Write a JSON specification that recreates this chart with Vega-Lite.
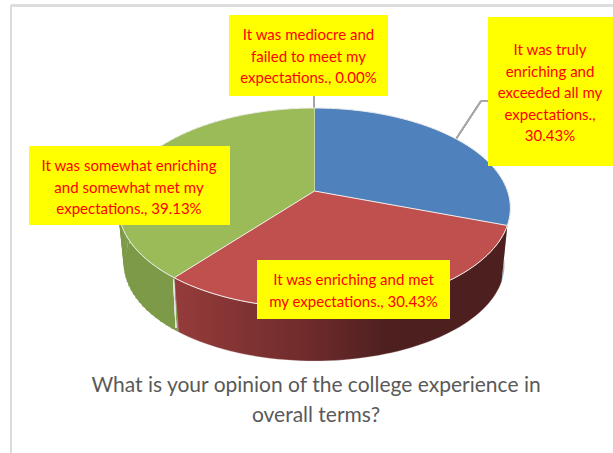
{"$schema":"https://vega.github.io/schema/vega-lite/v6.json","width":613,"height":453,"padding":0,"autosize":"none","background":"white","config":{"view":{"stroke":null}},
"datasets":{"slices":[
{"label":"It was truly\nenriching and\nexceeded all my\nexpectations.,\n30.43%","share":30.43,"colour":"blue"},
{"label":"It was enriching and met\nmy expectations., 30.43%","share":30.43,"colour":"red"},
{"label":"It was somewhat enriching\nand somewhat met my\nexpectations., 39.13%","share":39.13,"colour":"green"},
{"label":"It was mediocre and\nfailed to meet my\nexpectations., 0.00%","share":0,"colour":"none"}
],"title":[{"line":"What is your opinion of the college experience in\noverall terms?"}]},
"data":{"name":"slices"},
"layer":[
{"mark":{"type":"rule","stroke":"#dcdcdc","strokeWidth":2},"encoding":{"x":{"datum":11,"type":"quantitative","scale":{"domain":[0,613],"nice":false,"zero":false},"axis":null},"y":{"datum":5.5,"type":"quantitative","scale":{"domain":[453,0],"nice":false,"zero":false},"axis":null},"y2":{"datum":453}}},
{"mark":{"type":"rule","stroke":"#dcdcdc","strokeWidth":2},"encoding":{"x":{"datum":11,"type":"quantitative"},"x2":{"datum":613},"y":{"datum":5.5,"type":"quantitative"}}},
{"mark":{"type":"rule","stroke":"#a6a6a6","strokeWidth":1.5},"encoding":{"x":{"datum":314,"type":"quantitative"},"y":{"datum":96,"type":"quantitative"},"y2":{"datum":108}}},
{"mark":{"type":"rule","stroke":"#a6a6a6","strokeWidth":1.5},"encoding":{"x":{"datum":456,"type":"quantitative"},"x2":{"datum":481},"y":{"datum":139,"type":"quantitative"},"y2":{"datum":101}}},
{"mark":{"type":"rule","stroke":"#a6a6a6","strokeWidth":1.5},"encoding":{"x":{"datum":481,"type":"quantitative"},"x2":{"datum":489},"y":{"datum":101,"type":"quantitative"}}},
{"transform":[{"stack":"share","offset":"normalize","as":["s0","s1"]},{"filter":"datum.colour=='blue'"},{"calculate":"sequence(0,120)","as":"pts"},{"flatten":["pts"],"as":["i"]},{"calculate":"2*PI*(datum.s0+(datum.s1-datum.s0)*(datum.i<60?datum.i/59:(119-datum.i)/59))","as":"th"},{"filter":"datum.i<120"},{"calculate":"1+0.17*cos(datum.th)","as":"w"},{"calculate":"193*sin(datum.th)/datum.w","as":"dx"},{"calculate":"191-97.1*cos(datum.th)/datum.w","as":"py"},{"calculate":"314.5+datum.dx*(datum.i<60?1:0.97)","as":"X"},{"calculate":"datum.i<60?datum.py:265+(datum.py-208)*0.96","as":"Y"}],
"mark":{"type":"line","filled":true,"fill":"#9db4cf"},"encoding":{"x":{"field":"X","type":"quantitative"},"y":{"field":"Y","type":"quantitative"},"order":{"field":"i","type":"quantitative"}}},
{"transform":[{"stack":"share","offset":"normalize","as":["s0","s1"]},{"filter":"datum.colour=='green'"},{"calculate":"sequence(0,120)","as":"pts"},{"flatten":["pts"],"as":["i"]},{"calculate":"2*PI*(datum.s0+(datum.s1-datum.s0)*(datum.i<60?datum.i/59:(119-datum.i)/59))","as":"th"},{"filter":"datum.i<120"},{"calculate":"1+0.17*cos(datum.th)","as":"w"},{"calculate":"193*sin(datum.th)/datum.w","as":"dx"},{"calculate":"191-97.1*cos(datum.th)/datum.w","as":"py"},{"calculate":"314.5+datum.dx*(datum.i<60?1:0.97)","as":"X"},{"calculate":"datum.i<60?datum.py:265+(datum.py-208)*0.96","as":"Y"}],
"mark":{"type":"line","filled":true,"fill":"#7d9a49"},"encoding":{"x":{"field":"X","type":"quantitative"},"y":{"field":"Y","type":"quantitative"},"order":{"field":"i","type":"quantitative"}}},
{"transform":[{"stack":"share","offset":"normalize","as":["s0","s1"]},{"filter":"datum.colour=='green'"},{"calculate":"sequence(0,60)","as":"pts"},{"flatten":["pts"],"as":["i"]},{"calculate":"2*PI*(datum.s0+(datum.s1-datum.s0)*datum.i/59)","as":"th"},{"filter":"datum.i<60"},{"calculate":"1+0.17*cos(datum.th)","as":"w"},{"calculate":"193*sin(datum.th)/datum.w","as":"dx"},{"calculate":"191-97.1*cos(datum.th)/datum.w","as":"py"},{"calculate":"314.5+datum.dx","as":"X"},{"calculate":"datum.py","as":"Y"},{"calculate":"314.5+datum.dx*0.97","as":"X2"},{"calculate":"265+(datum.py-208)*0.96","as":"Y2"}],
"mark":{"type":"rule","stroke":"#7d9a49","strokeWidth":1.5},"encoding":{"x":{"field":"X","type":"quantitative"},"y":{"field":"Y","type":"quantitative"},"x2":{"field":"X2"},"y2":{"field":"Y2"}}},
{"transform":[{"stack":"share","offset":"normalize","as":["s0","s1"]},{"filter":"datum.colour=='red'"},{"calculate":"sequence(0,120)","as":"pts"},{"flatten":["pts"],"as":["i"]},{"calculate":"2*PI*(datum.s0+(datum.s1-datum.s0)*(datum.i<60?datum.i/59:(119-datum.i)/59))","as":"th"},{"filter":"datum.i<120"},{"calculate":"1+0.17*cos(datum.th)","as":"w"},{"calculate":"193*sin(datum.th)/datum.w","as":"dx"},{"calculate":"191-97.1*cos(datum.th)/datum.w","as":"py"},{"calculate":"314.5+datum.dx*(datum.i<60?1:0.97)","as":"X"},{"calculate":"datum.i<60?datum.py:265+(datum.py-208)*0.96","as":"Y"}],
"mark":{"type":"line","filled":true,"fill":{"gradient":"linear","x1":0,"y1":0,"x2":1,"y2":0,"stops":[{"offset":0,"color":"#953c3b"},{"offset":0.4,"color":"#6f2b2b"},{"offset":0.65,"color":"#4d1f1f"},{"offset":1,"color":"#4d1f1f"}]},"stroke":"#e6e0e0","strokeWidth":0.3},"encoding":{"x":{"field":"X","type":"quantitative"},"y":{"field":"Y","type":"quantitative"},"order":{"field":"i","type":"quantitative"}}},
{"mark":{"type":"rule","stroke":"#e8e4e4","strokeWidth":1},"encoding":{"x":{"datum":173.5,"type":"quantitative"},"x2":{"datum":176},"y":{"datum":279,"type":"quantitative"},"y2":{"datum":328}}},
{"transform":[{"stack":"share","offset":"normalize","as":["s0","s1"]},{"filter":"datum.share>0"},{"calculate":"sequence(0,61)","as":"pts"},{"flatten":["pts"],"as":["i"]},{"calculate":"2*PI*(datum.s0+(datum.s1-datum.s0)*(datum.i-1)/59)","as":"th"},{"filter":"datum.i<61"},{"calculate":"1+0.17*cos(datum.th)","as":"w"},{"calculate":"datum.i==0?314.5:314.5+193*sin(datum.th)/datum.w","as":"X"},{"calculate":"datum.i==0?191:191-97.1*cos(datum.th)/datum.w","as":"Y"}],
"mark":{"type":"line","filled":true,"stroke":"#f0eeee","strokeWidth":1},"encoding":{"x":{"field":"X","type":"quantitative"},"y":{"field":"Y","type":"quantitative"},"order":{"field":"i","type":"quantitative"},"fill":{"field":"colour","type":"nominal","legend":null,"scale":{"domain":["blue","red","green"],"range":["#4f81bd","#c0504d","#9bbb59"]}}}},
{"mark":{"type":"rect","fill":"#ffff00"},"encoding":{"x":{"datum":229,"type":"quantitative"},"x2":{"datum":388},"y":{"datum":15,"type":"quantitative"},"y2":{"datum":96}}},
{"mark":{"type":"rect","fill":"#ffff00"},"encoding":{"x":{"datum":488,"type":"quantitative"},"x2":{"datum":613},"y":{"datum":17,"type":"quantitative"},"y2":{"datum":166}}},
{"mark":{"type":"rect","fill":"#ffff00"},"encoding":{"x":{"datum":29,"type":"quantitative"},"x2":{"datum":230},"y":{"datum":146,"type":"quantitative"},"y2":{"datum":225}}},
{"mark":{"type":"rect","fill":"#ffff00"},"encoding":{"x":{"datum":257,"type":"quantitative"},"x2":{"datum":450},"y":{"datum":260,"type":"quantitative"},"y2":{"datum":319}}},
{"transform":[{"filter":"datum.colour=='none'"}],"mark":{"type":"text","font":"Lato","fontSize":15,"fill":"#ff0000","align":"center","baseline":"alphabetic","lineBreak":"\n","lineHeight":21.5},"encoding":{"x":{"datum":308.5,"type":"quantitative"},"y":{"datum":40,"type":"quantitative"},"text":{"field":"label"}}},
{"transform":[{"filter":"datum.colour=='blue'"}],"mark":{"type":"text","font":"Lato","fontSize":15,"fill":"#ff0000","align":"center","baseline":"alphabetic","lineBreak":"\n","lineHeight":21.5},"encoding":{"x":{"datum":550,"type":"quantitative"},"y":{"datum":55,"type":"quantitative"},"text":{"field":"label"}}},
{"transform":[{"filter":"datum.colour=='green'"}],"mark":{"type":"text","font":"Lato","fontSize":15,"fill":"#ff0000","align":"center","baseline":"alphabetic","lineBreak":"\n","lineHeight":21.5},"encoding":{"x":{"datum":129,"type":"quantitative"},"y":{"datum":171,"type":"quantitative"},"text":{"field":"label"}}},
{"transform":[{"filter":"datum.colour=='red'"}],"mark":{"type":"text","font":"Lato","fontSize":15,"fill":"#ff0000","align":"center","baseline":"alphabetic","lineBreak":"\n","lineHeight":21.5},"encoding":{"x":{"datum":353.5,"type":"quantitative"},"y":{"datum":285,"type":"quantitative"},"text":{"field":"label"}}},
{"data":{"name":"title"},"mark":{"type":"text","font":"Lato","fontSize":21,"fill":"#595959","align":"center","baseline":"alphabetic","lineBreak":"\n","lineHeight":30},"encoding":{"x":{"datum":316,"type":"quantitative"},"y":{"datum":391.5,"type":"quantitative"},"text":{"field":"line"}}}
]}
